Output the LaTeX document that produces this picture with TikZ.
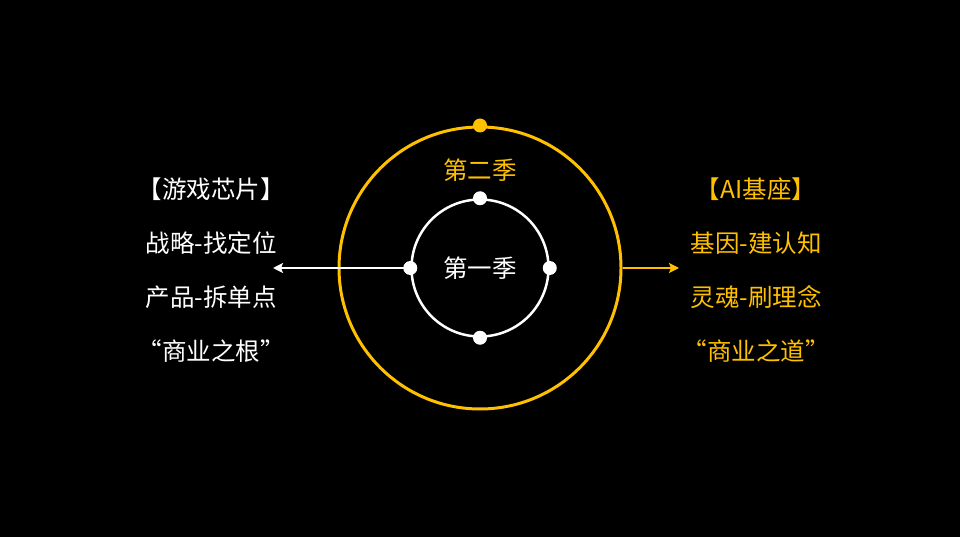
\documentclass[tikz,border=0pt]{standalone}
\usepackage{fontspec}
\newfontfamily\cjk{Noto Sans CJK SC}
\usetikzlibrary{arrows.meta}
\definecolor{gold}{RGB}{255,192,0}
\tikzstyle{ring}   = [circle, inner sep=0pt, line width=3pt]
\tikzstyle{knob}   = [circle, inner sep=0pt, minimum size=14pt]
\tikzstyle{season} = [font=\cjk\fontsize{24.5}{29}\selectfont, inner sep=0pt]
\tikzstyle{ray}    = [line width=2pt, -{Stealth[length=10pt,width=10pt,inset=2pt]}]

\begin{document}
\begin{tikzpicture}[x=1pt,y=-1pt]
    \fill[black] (0,0) rectangle (960,537);
    % the two seasons
    \node[ring, draw=gold,  minimum size=282pt] (outer) at (480,268) {};
    \node[ring, draw=white, minimum size=137pt, line width=2.5pt] (inner) at (480,268) {};
    \node[season, text=gold]  (two) at (480,170) {第二季};
    \node[season, text=white] (one) at (480,268) {第一季};
    \node[knob, fill=gold] (top) at (outer.north) {};
    \foreach \a in {north, south, east, west}
      \node[knob, fill=white] (k\a) at (inner.\a) {};
    % arrows out to the sides
    \coordinate (lend) at (273,268);
    \coordinate (rend) at (679,268);
    \draw[ray, white] (kwest.center) -- (lend);
    \draw[ray, gold]  (outer.east) -- (rend);
    % side texts
    \foreach \t [count=\i] in {【游戏芯片】, 战略-找定位, 产品-拆单点, “商业之根”}
      \node[season, text=white] (left\i) at (211,135+54*\i) {\t};
    \foreach \t [count=\i] in {【AI基座】, 基因-建认知, 灵魂-刷理念, “商业之道”}
      \node[season, text=gold] (right\i) at (756,135+54*\i) {\t};
\end{tikzpicture}
\end{document}
